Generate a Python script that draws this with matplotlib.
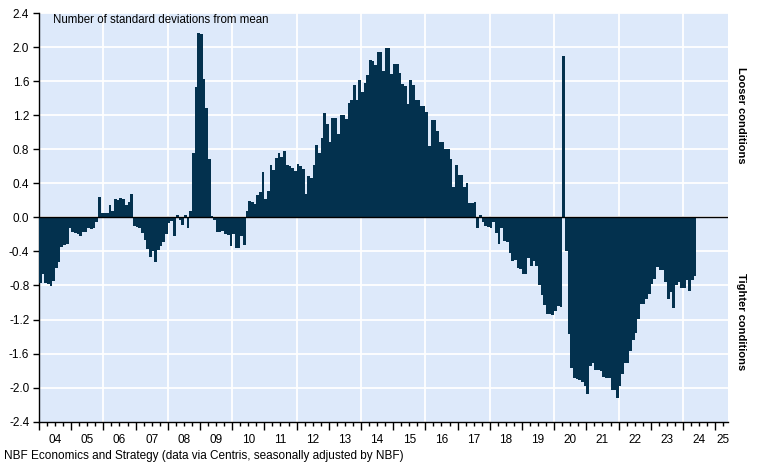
import matplotlib
matplotlib.use('Agg')
import matplotlib.pyplot as plt
import matplotlib.transforms as mtransforms
import numpy as np

plt.rcParams['font.family'] = ['Liberation Sans', 'DejaVu Sans']

# monthly readings, number of std devs from mean (Jan 2004 - May 2024)
y04 = [-0.77, -0.66, -0.77, -0.78, -0.81, -0.75, -0.60, -0.53, -0.35, -0.32, -0.31, -0.13]
y05 = [-0.17, -0.18, -0.19, -0.22, -0.17, -0.17, -0.12, -0.14, -0.13, -0.06, 0.24, 0.05]
y06 = [0.05, 0.05, 0.15, 0.08, 0.22, 0.20, 0.23, 0.22, 0.14, 0.18, 0.27, -0.10]
y07 = [-0.11, -0.13, -0.18, -0.27, -0.37, -0.46, -0.40, -0.52, -0.38, -0.34, -0.29, -0.19]
y08 = [-0.07, -0.04, -0.22, 0.03, -0.03, -0.09, 0.03, -0.12, 0.08, 0.76, 1.53, 2.17]
y09 = [2.15, 1.63, 1.29, 0.68, 0.02, -0.03, -0.17, -0.17, -0.16, -0.19, -0.21, -0.34]
y10 = [-0.19, -0.36, -0.36, -0.22, -0.33, 0.08, 0.19, 0.18, 0.16, 0.26, 0.30, 0.53]
y11 = [0.21, 0.31, 0.62, 0.56, 0.70, 0.76, 0.71, 0.78, 0.61, 0.60, 0.58, 0.55]
y12 = [0.63, 0.60, 0.57, 0.28, 0.49, 0.46, 0.61, 0.85, 0.76, 0.93, 1.23, 1.10]
y13 = [0.88, 1.17, 1.17, 0.98, 1.20, 1.20, 1.16, 1.34, 1.38, 1.56, 1.38, 1.61]
y14 = [1.47, 1.58, 1.67, 1.85, 1.84, 1.79, 1.94, 1.94, 1.72, 1.99, 1.99, 1.68]
y15 = [1.80, 1.80, 1.69, 1.57, 1.54, 1.33, 1.61, 1.55, 1.38, 1.38, 1.31, 1.31]
y16 = [1.24, 0.84, 1.14, 1.14, 1.01, 0.89, 0.89, 0.80, 0.80, 0.68, 0.36, 0.61]
y17 = [0.50, 0.50, 0.36, 0.40, 0.17, 0.17, 0.18, -0.13, 0.03, -0.05, -0.10, -0.11]
y18 = [-0.12, -0.06, -0.18, -0.31, -0.12, -0.28, -0.29, -0.42, -0.51, -0.50, -0.59, -0.61]
y19 = [-0.67, -0.67, -0.48, -0.57, -0.51, -0.57, -0.79, -0.91, -1.03, -1.13, -1.13, -1.15]
y20 = [-1.10, -1.04, -1.05, 1.90, -0.40, -1.37, -1.77, -1.89, -1.90, -1.91, -1.93, -1.98]
y21 = [-2.08, -1.75, -1.71, -1.79, -1.79, -1.80, -1.87, -1.89, -1.89, -2.03, -2.03, -2.12]
y22 = [-1.98, -1.84, -1.71, -1.71, -1.57, -1.44, -1.36, -1.19, -1.02, -1.02, -0.96, -0.90]
y23 = [-0.78, -0.72, -0.58, -0.62, -0.62, -0.76, -0.96, -0.88, -1.06, -0.80, -0.76, -0.83]
y24 = [-0.83, -0.74, -0.86, -0.73, -0.69]

year_labels = ['04', '05', '06', '07', '08', '09', '10', '11', '12', '13', '14',
               '15', '16', '17', '18', '19', '20', '21', '22', '23', '24', '25']

values = np.concatenate([y04, y05, y06, y07, y08, y09, y10, y11, y12, y13, y14,
                         y15, y16, y17, y18, y19, y20, y21, y22, y23, y24])
x = 2004 + np.arange(len(values)) / 12

bar_color = '#03314e'
bg_color = '#dde9fa'
x_max = 2025.39

fig = plt.figure(figsize=(7.59, 4.62), dpi=100)
ax = fig.add_axes([39 / 759, 1 - 421.7 / 462, (727.7 - 39) / 759, (421.7 - 13) / 462])
ax.set_facecolor(bg_color)

ax.bar(x, values, width=1 / 12, align='edge', color=bar_color, linewidth=0, zorder=3)

# grid
for yv in np.arange(-2.0, 2.41, 0.4):
    ax.axhline(yv, color='white', lw=1.3, zorder=1)
for yr in range(2006, 2025, 2):
    ax.axvline(yr, color='white', lw=1.3, zorder=1)
ax.axhline(0, color='black', lw=1.0, zorder=4)

ax.set_xlim(2004, x_max)
ax.set_ylim(-2.4, 2.4)

for s in ['top', 'right']:
    ax.spines[s].set_visible(False)
for s in ['left', 'bottom']:
    ax.spines[s].set_color('black')
    ax.spines[s].set_linewidth(1.0)

yt = np.arange(-2.4, 2.41, 0.4)
ax.set_yticks(yt)
ax.set_yticklabels([f'{v:.1f}'.replace('-0.0', '0.0') for v in yt], fontsize=8.5)
ax.tick_params(axis='y', direction='out', length=4, width=1, pad=3)

ax.set_xticks(range(2004, 2026))
ax.set_xticklabels([])
ax.set_xticks(np.arange(2004, x_max, 0.25), minor=True)
ax.tick_params(axis='x', which='major', direction='out', length=6, width=1)
ax.tick_params(axis='x', which='minor', direction='out', length=3, width=1)

trans = mtransforms.blended_transform_factory(ax.transData, ax.transAxes)
for k, lbl in enumerate(year_labels):
    yr = 2004 + k
    xpos = min(yr + 0.5, (yr + x_max) / 2 + 0.05)
    ax.text(xpos, -0.045, lbl, transform=trans, ha='center', va='center', fontsize=8.5)

fig.text(53 / 759, 1 - 20 / 462, 'Number of standard deviations from mean',
         fontsize=8.3, va='center', ha='left')
fig.text(741 / 759, 1 - 115 / 462, 'Looser conditions', rotation=-90,
         fontweight='bold', fontsize=8, ha='center', va='center')
fig.text(741 / 759, 1 - 322 / 462, 'Tighter conditions', rotation=-90,
         fontweight='bold', fontsize=8, ha='center', va='center')
fig.text(4 / 759, 1 - 456 / 462,
         'NBF Economics and Strategy (data via Centris, seasonally adjusted by NBF)',
         fontsize=8.5, ha='left', va='center')

fig.savefig('out.png', dpi=100)
